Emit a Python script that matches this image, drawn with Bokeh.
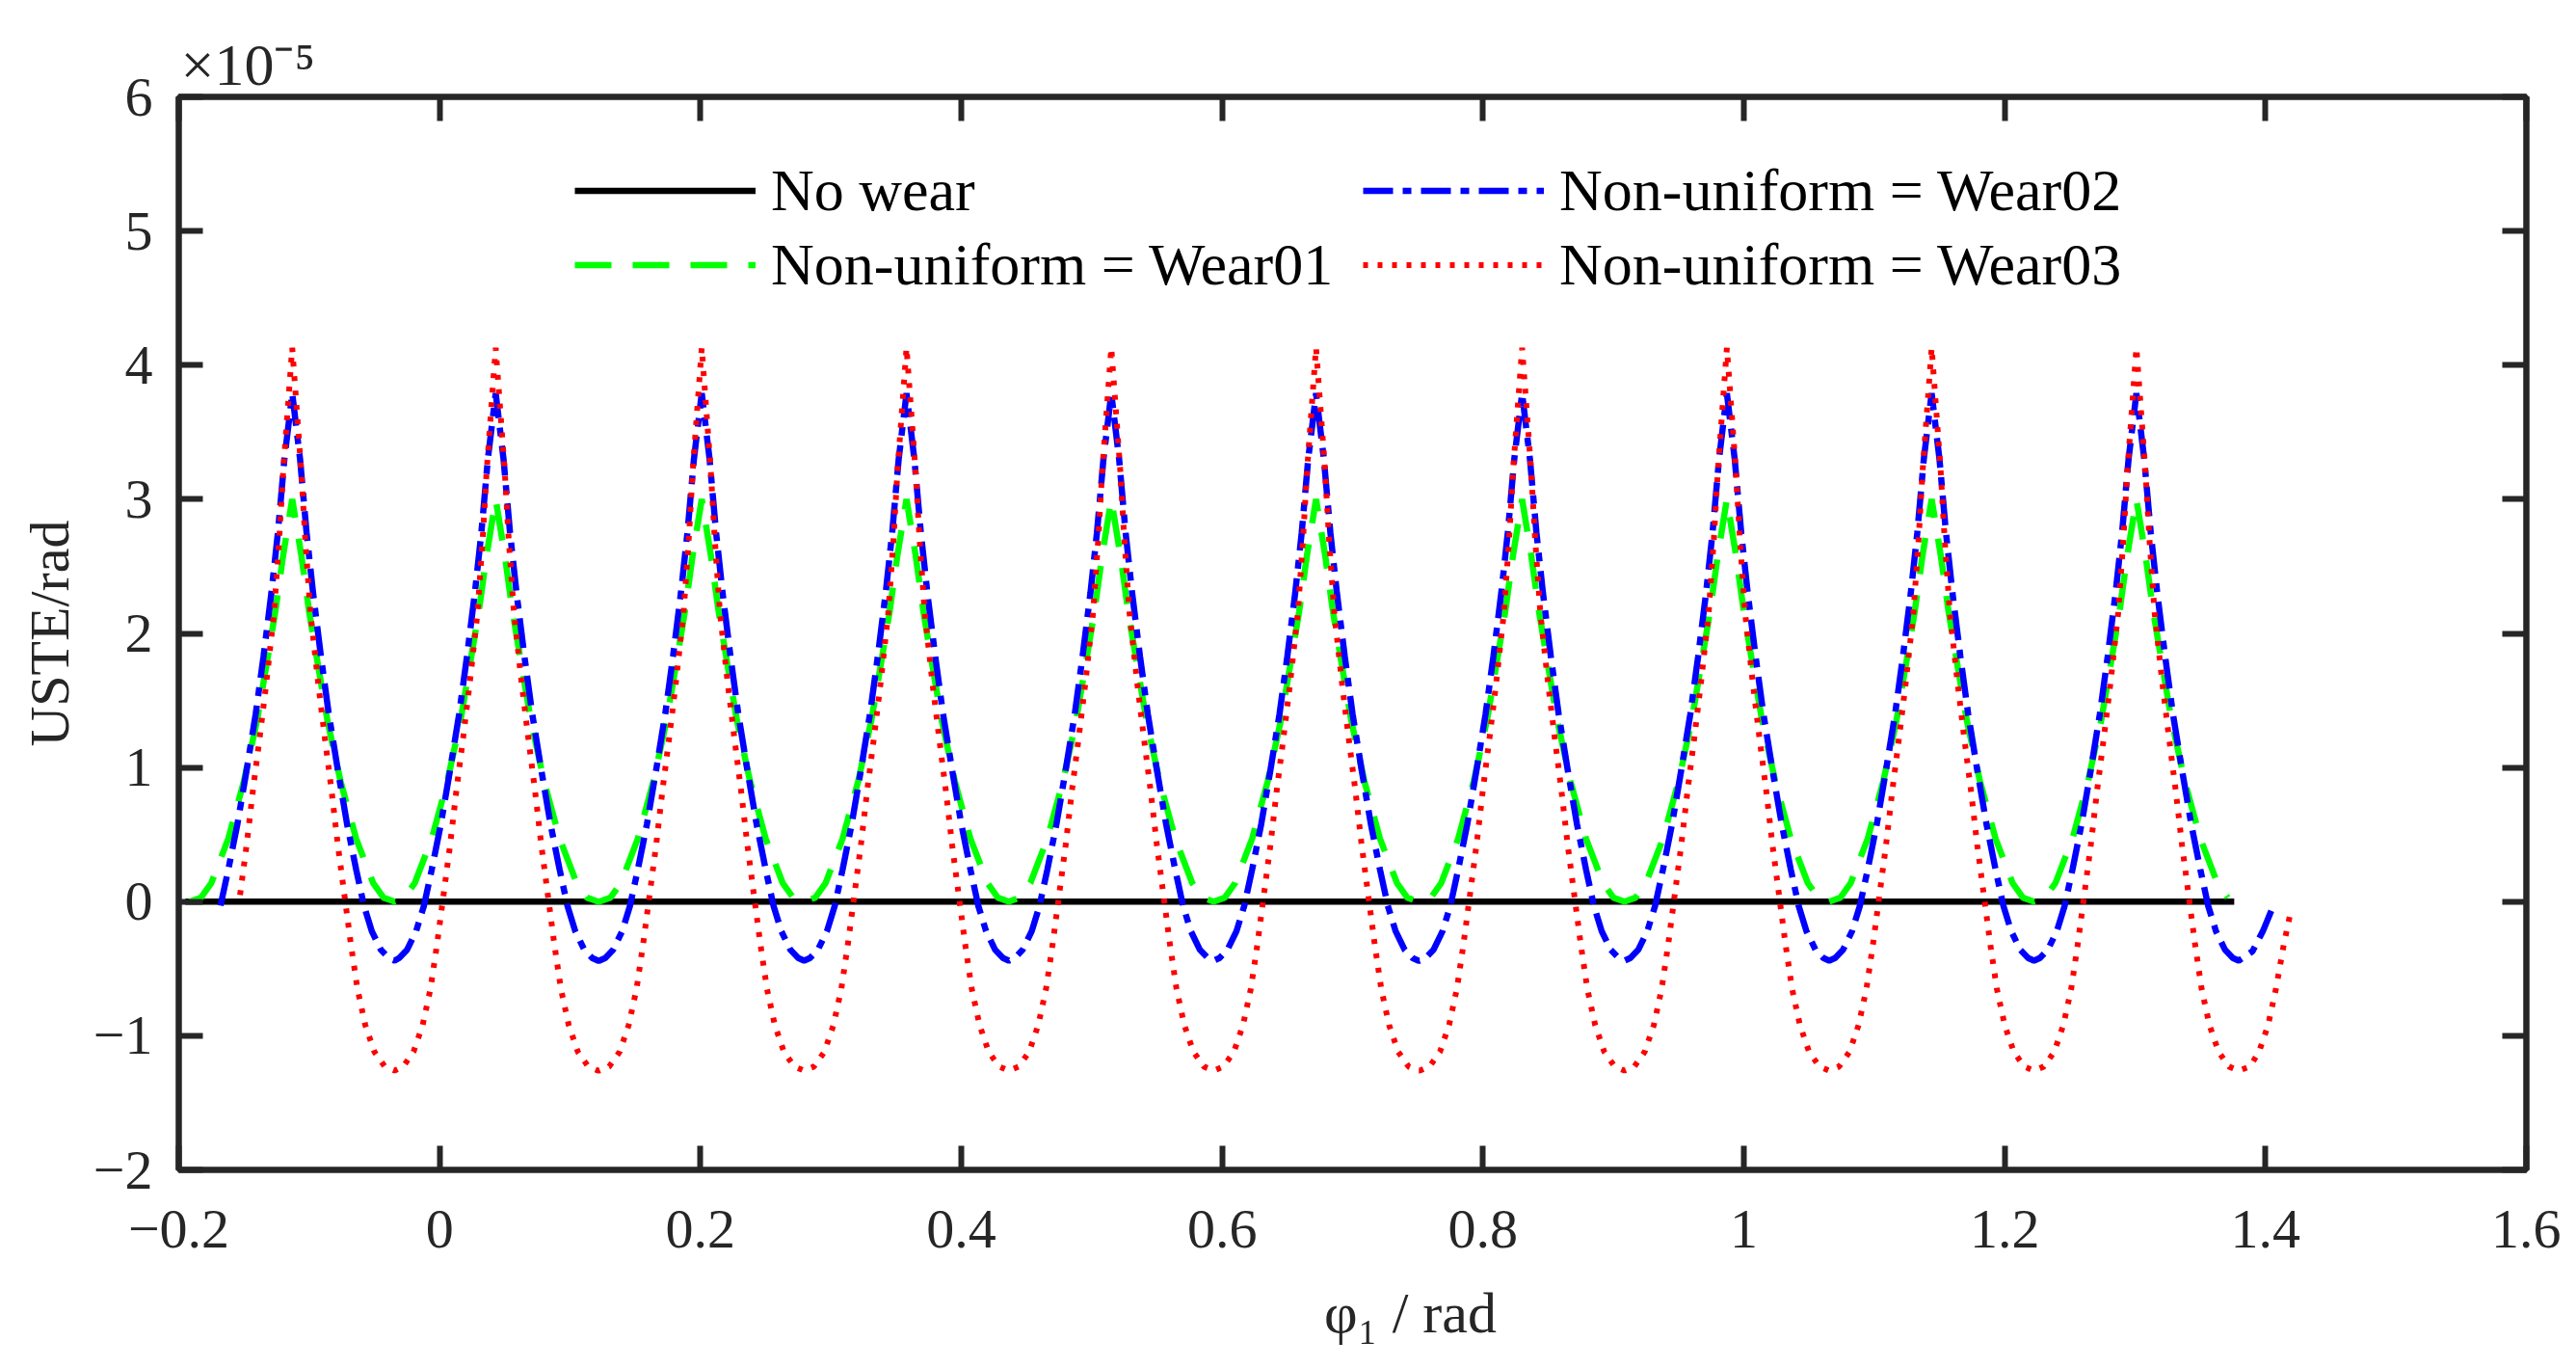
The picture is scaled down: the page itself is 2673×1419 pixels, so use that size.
from bokeh.plotting import figure
from bokeh.models import Range1d, LinearAxis, FixedTicker, Legend, LegendItem
from bokeh.embed import file_html
from bokeh.resources import INLINE

# USTE values are in units of 1e-5 rad (the x10^-5 multiplier shown top-left)
x_ticks = [-0.2, 0, 0.2, 0.4, 0.6, 0.8, 1, 1.2, 1.4, 1.6]
x_tick_labels = ["\u22120.2", "0", "0.2", "0.4", "0.6", "0.8", "1", "1.2", "1.4", "1.6"]
y_ticks = [-2, -1, 0, 1, 2, 3, 4, 5, 6]
y_tick_labels = ["\u22122", "\u22121", "0", "1", "2", "3", "4", "5", "6"]

series_names = ["No wear", "Non-uniform = Wear01", "Non-uniform = Wear02", "Non-uniform = Wear03"]

# no wear: flat at zero
nowear_x = [-0.195, 1.376]
nowear_y = [0.0, 0.0]

# peak positions of the ten mesh cycles (read from the red peaks)
peak_x = [-0.113, 0.043, 0.201, 0.358, 0.515, 0.672, 0.830, 0.987, 1.144, 1.301]

# half of one mesh cycle, read from a peak down to the following trough
# (offset from the peak in rad, value in 1e-5 rad)
wear01_dx = [0.0, 0.007, 0.013, 0.020, 0.027, 0.037, 0.049, 0.062, 0.070, 0.0785]
wear01_y = [3.00, 2.58, 2.16, 1.75, 1.35, 0.90, 0.47, 0.14, 0.03, 0.0]

wear02_dx = [0.0, 0.006, 0.011, 0.016, 0.022, 0.028, 0.035, 0.042, 0.049, 0.055, 0.061, 0.068, 0.074, 0.0785]
wear02_y = [3.79, 3.30, 2.75, 2.30, 1.83, 1.40, 0.98, 0.58, 0.24, -0.03, -0.22, -0.36, -0.42, -0.44]

wear03_dx = [0.0, 0.004, 0.007, 0.010, 0.014, 0.020, 0.025, 0.030, 0.035, 0.040, 0.045, 0.050, 0.056, 0.063, 0.071, 0.0785]
wear03_y = [4.13, 3.60, 3.20, 2.70, 2.15, 1.62, 1.22, 0.84, 0.42, 0.05, -0.32, -0.65, -0.92, -1.12, -1.23, -1.26]

# where each worn curve starts and stops on the plot
wear01_span = (-0.192, 1.374)
wear02_span = (-0.1685, 1.380)
wear03_span = (-0.154, 1.380)

# last partial rise after the final trough
wear02_tail_x = [1.390, 1.398, 1.406]
wear02_tail_y = [-0.37, -0.22, -0.03]
wear03_tail_x = [1.388, 1.395, 1.402, 1.408, 1.414, 1.419]
wear03_tail_y = [-1.23, -1.12, -0.92, -0.65, -0.32, -0.09]


def tooth_cycles(dx, dy, span, tail_x=(), tail_y=()):
    lo, hi = span
    half = list(zip(dx, dy))
    cycle = [(-d, v) for d, v in half[::-1]] + half[1:]
    xs, ys = [], []
    for pk in peak_x:
        for d, v in cycle:
            x = round(pk + d, 4)
            if lo <= x <= hi and (not xs or x > xs[-1]):
                xs.append(x)
                ys.append(v)
    xs += list(tail_x)
    ys += list(tail_y)
    return xs, ys


FONT = "Liberation Serif"
AX = "#262626"
W, H = 2657, 1403

p = figure(width=W, height=H, x_range=Range1d(-0.2, 1.6), y_range=Range1d(-2, 6),
           output_backend="svg", toolbar_location=None,
           min_border_left=185, min_border_right=W - 2621,
           min_border_top=100, min_border_bottom=H - 1213)
p.xgrid.visible = False
p.ygrid.visible = False
p.outline_line_color = AX
p.outline_line_width = 6
p.background_fill_color = "white"
p.border_fill_color = "white"

# the x10^-5 multiplier sits in the title slot, top-left
p.title.text = "\u00d710\u207b\u2075"
p.title.align = "left"
p.title.offset = 2
p.title.standoff = 0
p.title.text_font = FONT
p.title.text_font_size = "62px"
p.title.text_font_style = "normal"
p.title.text_color = AX

p.add_layout(LinearAxis(), "above")
p.add_layout(LinearAxis(), "right")

for ax in p.xaxis + p.yaxis:
    horiz = ax in p.xaxis
    ax.ticker = FixedTicker(ticks=x_ticks if horiz else y_ticks)
    ax.major_label_overrides = dict(zip(x_ticks, x_tick_labels)) if horiz else dict(zip(y_ticks, y_tick_labels))
    ax.axis_line_color = AX
    ax.axis_line_width = 6
    ax.major_tick_line_color = AX
    ax.major_tick_line_width = 6
    ax.major_tick_in = 25
    ax.major_tick_out = 0
    ax.minor_tick_line_color = None
    ax.major_label_text_font = FONT
    ax.major_label_text_font_size = "58px"
    ax.major_label_text_color = AX

# top and right axes: ticks only
for ax in (p.xaxis[0], p.yaxis[1]):
    ax.major_label_text_color = None
    ax.major_label_text_font_size = "1px"
    ax.major_label_standoff = 0

p.xaxis[1].major_label_standoff = 42
p.yaxis[0].major_label_standoff = 27

p.yaxis[0].axis_label = "USTE/rad"
p.yaxis[0].axis_label_text_font = FONT
p.yaxis[0].axis_label_text_font_size = "58px"
p.yaxis[0].axis_label_text_font_style = "normal"
p.yaxis[0].axis_label_text_color = AX
p.yaxis[0].axis_label_standoff = 10

# leading no-break spaces push the label right of the axis centre, as in the original
p.xaxis[1].axis_label = "\u00a0" * 8 + "\u03c6\u2081 / rad"
p.xaxis[1].axis_label_text_font = FONT
p.xaxis[1].axis_label_text_font_size = "60px"
p.xaxis[1].axis_label_text_font_style = "normal"
p.xaxis[1].axis_label_text_color = AX
p.xaxis[1].axis_label_standoff = 32

w01_x, w01_y = tooth_cycles(wear01_dx, wear01_y, wear01_span)
w02_x, w02_y = tooth_cycles(wear02_dx, wear02_y, wear02_span, wear02_tail_x, wear02_tail_y)
w03_x, w03_y = tooth_cycles(wear03_dx, wear03_y, wear03_span, wear03_tail_x, wear03_tail_y)

r0 = p.line(nowear_x, nowear_y, line_color="black", line_width=6.5)
r1 = p.line(w01_x, w01_y, line_color="#00ff00", line_width=6.5, line_dash="38 22")
r2 = p.line(w02_x, w02_y, line_color="#0000ff", line_width=6.5, line_dash="31 10 9 10")
r3 = p.line(w03_x, w03_y, line_color="#ff0000", line_width=6, line_dash="5 10")

leg1 = Legend(items=[LegendItem(label=series_names[0], renderers=[r0]),
                     LegendItem(label=series_names[1], renderers=[r1])],
              location=(411, 900))
leg2 = Legend(items=[LegendItem(label=series_names[2], renderers=[r2]),
                     LegendItem(label=series_names[3], renderers=[r3])],
              location=(1229, 900))
for lg in (leg1, leg2):
    lg.glyph_width = 188
    lg.glyph_height = 77
    lg.label_height = 77
    lg.label_standoff = 16
    lg.spacing = 0
    lg.padding = 0
    lg.margin = 0
    lg.border_line_color = None
    lg.background_fill_alpha = 0
    lg.label_text_font = FONT
    lg.label_text_font_size = "62px"
    lg.label_text_color = "black"
    p.add_layout(lg)

open("out.html", "w").write(file_html(p, INLINE))
